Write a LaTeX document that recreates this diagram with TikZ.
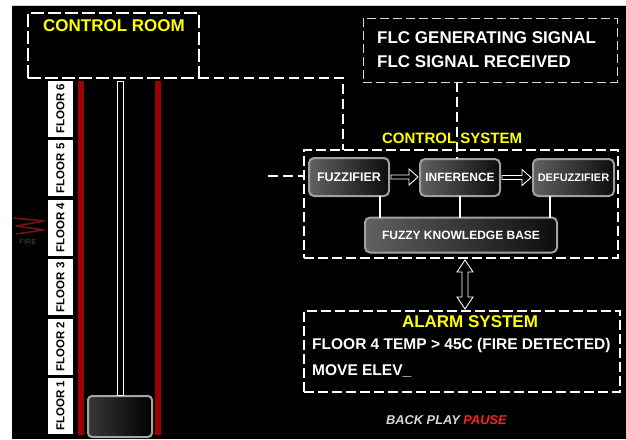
\documentclass[tikz,border=0pt]{standalone}
\usepackage{fontspec}
\setmainfont{Liberation Sans}
\usepackage{tikz}
\usetikzlibrary{
  arrows.meta,
  positioning,
  calc
}
\definecolor{railred}{HTML}{9E0000}
\definecolor{boxgray}{HTML}{A0A0A0}
\definecolor{firered}{HTML}{701414}
\definecolor{fireolive}{HTML}{4B4B12}
\definecolor{pausered}{HTML}{FF2020}
\definecolor{titleyellow}{HTML}{FFFF00}

\begin{document}
\begin{tikzpicture}[
    x=1pt, y=-1pt,
    >=Latex,
    roombox/.style={draw=white, line width=2.6pt, dash pattern=on 13pt off 4pt,
      inner sep=0, outer sep=0},
    sysbox/.style={draw=white, line width=1.3pt, dash pattern=on 10pt off 4pt,
      inner sep=0, outer sep=0},
    flcbox/.style={draw=white!85!black, line width=0.9pt, dash pattern=on 9pt off 4pt,
      inner sep=0, outer sep=0},
    dashlink/.style={draw=white, line width=1.2pt, dash pattern=on 10pt off 5pt},
    wire/.style={draw=white, line width=1.5pt},
    fuzzybox/.style={draw=boxgray, line width=2pt, rounded corners=5pt,
      left color=black!62, right color=black!95, text=white,
      font=\fontsize{12.5}{14}\selectfont\bfseries, inner sep=0, outer sep=0},
    floorlbl/.style={fill=white, rotate=90, minimum width=56pt, minimum height=25pt,
      inner sep=0, font=\fontsize{11.5}{13}\selectfont\bfseries},
    yeltitle/.style={text=titleyellow, inner sep=0, anchor=base},
    infotext/.style={text=white, inner sep=0, anchor=base west,
      font=\fontsize{17}{20}\selectfont\bfseries},
    railbar/.style={fill=railred},
    car/.style={draw=gray!70, line width=2pt, rounded corners=4pt,
      left color=black!78, right color=black, inner sep=0, outer sep=0},
    cable/.style={draw=white, line width=0.8pt, fill=black},
    hollowarrow/.style={draw=white, line width=0.9pt, fill=black,
      to path={let \p1=(\tikztostart), \p2=(\tikztotarget) in
        (\x1,\y1+2pt) -- (\x2-9pt,\y1+2pt) -- (\x2-9pt,\y1+8pt) -- (\x2,\y1)
        -- (\x2-9pt,\y1-8pt) -- (\x2-9pt,\y1-2pt) -- (\x1,\y1-2pt) -- cycle}},
    dblarrow/.style={draw=white, line width=0.9pt, fill=black,
      to path={let \p1=(\tikztostart), \p2=(\tikztotarget) in
        (\x1,\y1) -- (\x1+8pt,\y1-12pt) -- (\x1+3pt,\y1-12pt) -- (\x1+3pt,\y2+12pt)
        -- (\x1+8pt,\y2+12pt) -- (\x1,\y2) -- (\x1-8pt,\y2+12pt) -- (\x1-3pt,\y2+12pt)
        -- (\x1-3pt,\y1-12pt) -- (\x1-8pt,\y1-12pt) -- cycle}}
    ]

    % fundo
    \useasboundingbox (0,0) rectangle (626,439);
    \fill[white] (0,0) rectangle (626,439);
    \fill[black] (12,6) rectangle (626,439);
    \draw[gray!35, line width=0.6pt] (12,5.5) -- (626,5.5);

    % control room
    \node[roombox, minimum width=171pt, minimum height=65pt] (croom) at (113.5,45.5) {};
    \node[yeltitle, font=\fontsize{17}{20}\selectfont\bfseries] (croomtitle) at (114,31)
    {CONTROL ROOM};

    % shaft
    \fill[railbar] (78,81) rectangle (84,435);
    \fill[railbar] (155,81) rectangle (161,435);

    \foreach \i in {1,...,6}
    \node[floorlbl] (floor\i) at (60.5,{109+(6-\i)*59.4}) {FLOOR \i};

    % elevator
    \node[car, minimum width=64pt, minimum height=41pt] (car) at (120,416.5) {};
    \draw[cable] ([xshift=-3pt,yshift=1pt]car.north) rectangle ++(6,-314);

    % fire
    \draw[firered, line width=1.6pt, line join=round]
    (13,218) -- (44,221) -- (16,226) -- (44,230) -- (16,234);
    \node[text=fireolive, inner sep=0, font=\fontsize{7.5}{9}\selectfont] (fire) at (28,242)
    {FIRE};

    % FLC status
    \node[flcbox, minimum width=254pt, minimum height=64pt] (flc) at (490,50) {};
    \node[infotext] (flcgen) at (377,43) {FLC GENERATING SIGNAL};
    \node[infotext] (flcrec) at (377,67) {FLC SIGNAL RECEIVED};

    % control system
    \node[sysbox, minimum width=314pt, minimum height=108pt] (ctrlsys) at (461,204) {};

    \node[fuzzybox, minimum width=80pt, minimum height=38pt] (fuzz) at (349,177)
    {FUZZIFIER};
    \node[fuzzybox, minimum width=80pt, minimum height=37pt,
      font=\fontsize{12}{14}\selectfont\bfseries] (inf) at (460,177.5)
    {INFERENCE};
    \node[fuzzybox, minimum width=81pt, minimum height=37pt,
      font=\fontsize{11}{13}\selectfont\bfseries] (defuzz) at (573.5,177.5)
    {DEFUZZIFIER};
    \node[fuzzybox, minimum width=192pt, minimum height=35pt,
      font=\fontsize{12}{14}\selectfont\bfseries] (kb) at (461,235)
    {FUZZY KNOWLEDGE BASE};

    \draw[dashlink] (croom.south east) -| ($(ctrlsys.north west)+(39,0)$);
    \draw[dashlink] ([xshift=-3pt]inf.north |- flc.south) -- ([xshift=-3pt]inf.north);
    \node[yeltitle, font=\fontsize{15}{17}\selectfont\bfseries] (ctrltitle) at (452,143)
    {CONTROL SYSTEM};

    \coordinate (sensor) at (268,176);
    \draw[dashlink] (sensor) -- (sensor -| ctrlsys.west);

    \draw[hollowarrow] ([xshift=2pt]fuzz.east) to ([xshift=-2pt]inf.west);
    \draw[hollowarrow] ([xshift=2pt]inf.east) to ([xshift=-2pt]defuzz.west);

    \draw[wire] (inf.south) -- (inf.south |- kb.north);
    \draw[wire] ([xshift=15pt]kb.north west) -- ([xshift=15pt]kb.north west |- fuzz.south);
    \draw[wire] ([xshift=-7pt]kb.north east) -- ([xshift=-7pt]kb.north east |- defuzz.south);

    % alarm system
    \node[sysbox, minimum width=316pt, minimum height=81pt] (alarm) at (462,351.5) {};
    \draw[dblarrow] ([xshift=4pt,yshift=-2pt]ctrlsys.south) to ([xshift=3pt,yshift=2pt]alarm.north);
    \node[yeltitle, font=\fontsize{17}{20}\selectfont\bfseries] (alarmtitle) at (470,327)
    {ALARM SYSTEM};
    \node[infotext, font=\fontsize{15.5}{18}\selectfont\bfseries] (alarmmsg) at (312,349)
    {FLOOR 4 TEMP > 45C (FIRE DETECTED)};
    \node[infotext, font=\fontsize{15.5}{18}\selectfont\bfseries] (alarmcmd) at (312,375)
    {MOVE ELEV\_};

    % player
    \node[inner sep=0, anchor=base west, font=\fontsize{12.8}{15}\selectfont\bfseries\itshape]
    (player) at (386,424)
    {\textcolor{white!85!black}{BACK PLAY} \textcolor{pausered}{PAUSE}};

\end{tikzpicture}
\end{document}
